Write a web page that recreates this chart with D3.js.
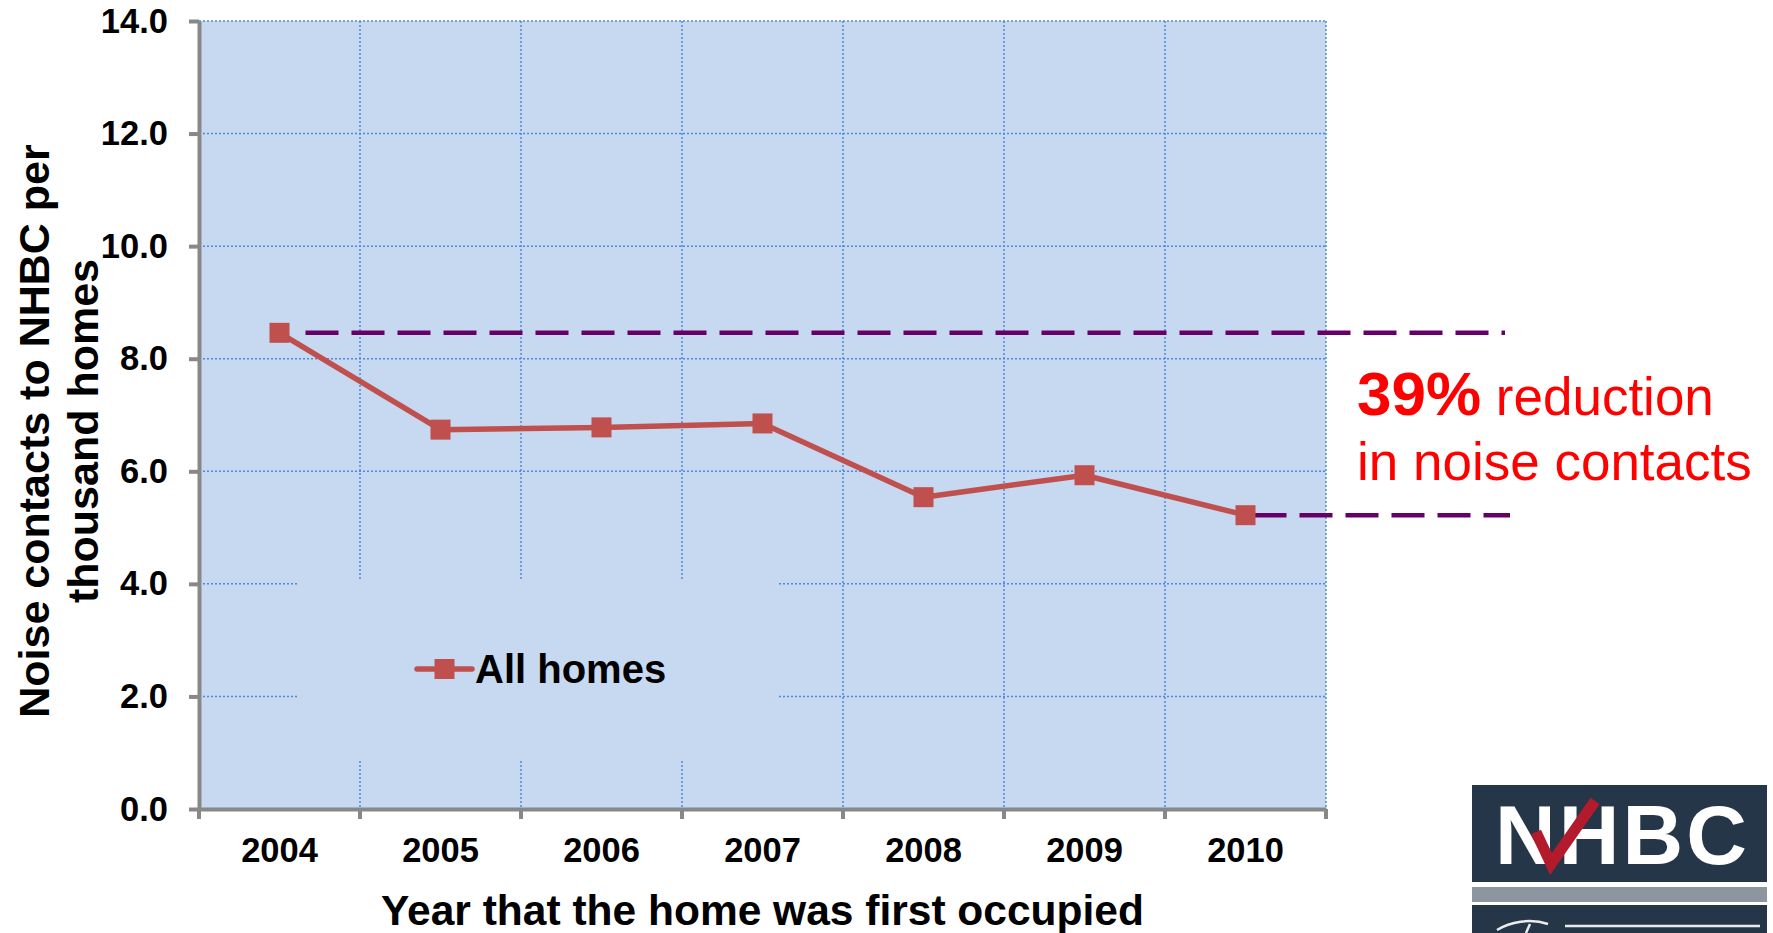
<!DOCTYPE html>
<html>
<head>
<meta charset="utf-8">
<script src="https://cdn.jsdelivr.net/npm/d3@7"></script>
<style>
  body { margin: 0; background: #fff; }
  svg { display: block; font-family: Arial, "Liberation Sans", sans-serif; }
</style>
</head>
<body>
<div id="chart-area"></div>
<script>
// data
var years = ["2004", "2005", "2006", "2007", "2008", "2009", "2010"];
var allHomes = [8.46, 6.74, 6.78, 6.85, 5.54, 5.93, 5.22];
var yTicks = [0, 2, 4, 6, 8, 10, 12, 14];
var seriesName = "All homes";
var yTitle = ["Noise contacts to NHBC per", "thousand homes"];
var xTitle = "Year that the home was first occupied";

var W = 1773, H = 933;
var margin = { left: 199, right: 447, top: 21, bottom: 124 };

var svg = d3.select("#chart-area")
    .append("svg")
        .attr("width", W)
        .attr("height", H);

var x = d3.scaleBand()
    .domain(years)
    .range([margin.left, W - margin.right]);

var y = d3.scaleLinear()
    .domain([0, 14])
    .range([H - margin.bottom, margin.top]);

var gridColor = "#4d8ad9";
var axisColor = "#888888";
var red = "#c0504d";
var bg = "#c6d9f0";

// plot background
svg.append("rect")
    .attr("x", x.range()[0])
    .attr("y", y(14))
    .attr("width", x.range()[1] - x.range()[0])
    .attr("height", y(0) - y(14))
    .attr("fill", bg);

// band edges (ticks + vertical grid)
var edges = years.map(d => x(d)).concat([x.range()[1]]);

svg.append("g")
    .selectAll("line")
    .data(yTicks.filter(d => d > 0))
    .join("line")
        .attr("x1", x.range()[0])
        .attr("x2", x.range()[1])
        .attr("y1", d => y(d))
        .attr("y2", d => y(d))
        .attr("stroke", gridColor)
        .attr("stroke-width", 1.5)
        .attr("stroke-dasharray", "2,2");

svg.append("g")
    .selectAll("line")
    .data(edges.slice(1))
    .join("line")
        .attr("x1", d => d)
        .attr("x2", d => d)
        .attr("y1", y(14))
        .attr("y2", y(0))
        .attr("stroke", gridColor)
        .attr("stroke-width", 1.5)
        .attr("stroke-dasharray", "2,2");

// legend box hides the grid behind it
var legendBox = { x: 297, y: 579, w: 482, h: 180 };
svg.append("rect")
    .attr("x", legendBox.x)
    .attr("y", legendBox.y)
    .attr("width", legendBox.w)
    .attr("height", legendBox.h)
    .attr("fill", bg);

// y axis
var yAxis = d3.axisLeft(y)
    .tickValues(yTicks)
    .tickFormat(d3.format(".1f"))
    .tickSize(10)
    .tickSizeOuter(0)
    .tickPadding(21);

var gy = svg.append("g")
    .attr("transform", "translate(" + margin.left + ",0)")
    .call(yAxis);
gy.select(".domain").attr("stroke", axisColor).attr("stroke-width", 4);
gy.selectAll(".tick line").attr("stroke", axisColor).attr("stroke-width", 4);
gy.selectAll(".tick text")
    .attr("fill", "#000")
    .style("font-size", "34.5px")
    .style("font-weight", "bold")
    .style("font-family", "Arial, 'Liberation Sans', sans-serif");

// x axis: labels centred on bands, ticks on band edges
var xAxis = d3.axisBottom(x)
    .tickSize(0)
    .tickPadding(29);

var gx = svg.append("g")
    .attr("transform", "translate(0," + y(0) + ")")
    .call(xAxis);
gx.select(".domain").attr("stroke", axisColor).attr("stroke-width", 4);
gx.selectAll(".tick text")
    .attr("fill", "#000")
    .style("font-size", "34.5px")
    .style("font-weight", "bold")
    .style("font-family", "Arial, 'Liberation Sans', sans-serif");

gx.selectAll(".edge")
    .data(edges)
    .join("line")
        .attr("class", "edge")
        .attr("x1", d => d)
        .attr("x2", d => d)
        .attr("y1", 0)
        .attr("y2", 10)
        .attr("stroke", axisColor)
        .attr("stroke-width", 4);

// dashed reference lines at first and last value
var cx = d => x(d) + x.bandwidth() / 2;
var first = allHomes[0], last = allHomes[allHomes.length - 1];

svg.append("line")
    .attr("x1", cx(years[0]) + 26)
    .attr("x2", 1505)
    .attr("y1", y(first))
    .attr("y2", y(first))
    .attr("stroke", "#660066")
    .attr("stroke-width", 4.5)
    .attr("stroke-dasharray", "33,13");

svg.append("line")
    .attr("x1", cx(years[years.length - 1]) + 8)
    .attr("x2", 1510)
    .attr("y1", y(last))
    .attr("y2", y(last))
    .attr("stroke", "#660066")
    .attr("stroke-width", 4.5)
    .attr("stroke-dasharray", "33,13");

// series line + square markers
var line = d3.line()
    .x((d, i) => cx(years[i]))
    .y(d => y(d));

svg.append("path")
    .datum(allHomes)
    .attr("d", line)
    .attr("fill", "none")
    .attr("stroke", red)
    .attr("stroke-width", 5.5)
    .attr("stroke-linejoin", "round");

var sq = 20;
svg.append("g")
    .selectAll("rect")
    .data(allHomes)
    .join("rect")
        .attr("x", (d, i) => cx(years[i]) - sq / 2)
        .attr("y", d => y(d) - sq / 2)
        .attr("width", sq)
        .attr("height", sq)
        .attr("fill", red);

// legend
var lg = svg.append("g");
lg.append("line")
    .attr("x1", 417).attr("x2", 472)
    .attr("y1", 669).attr("y2", 669)
    .attr("stroke", red)
    .attr("stroke-width", 5.5)
    .attr("stroke-linecap", "round");
lg.append("rect")
    .attr("x", 444.5 - sq / 2).attr("y", 669 - sq / 2)
    .attr("width", sq).attr("height", sq)
    .attr("fill", red);
lg.append("text")
    .attr("x", 475).attr("y", 683)
    .style("font-size", "40px")
    .style("font-weight", "bold")
    .text(seriesName);

// axis titles
var yt = svg.append("text")
    .attr("transform", "translate(49,431) rotate(-90)")
    .attr("text-anchor", "middle")
    .style("font-size", "43px")
    .style("font-weight", "bold");
yt.append("tspan").attr("x", 0).attr("y", 0).text(yTitle[0]);
yt.append("tspan").attr("x", 0).attr("y", 49).text(yTitle[1]);

svg.append("text")
    .attr("x", (x.range()[0] + x.range()[1]) / 2)
    .attr("y", 925)
    .attr("text-anchor", "middle")
    .style("font-size", "42.5px")
    .style("font-weight", "bold")
    .text(xTitle);

// annotation
var ann = svg.append("text")
    .attr("x", 1357).attr("y", 415)
    .attr("fill", "#ff0000");
ann.append("tspan")
    .style("font-size", "62px")
    .style("font-weight", "bold")
    .text("39%");
ann.append("tspan")
    .style("font-size", "53px")
    .text(" reduction");
svg.append("text")
    .attr("x", 1357).attr("y", 480)
    .attr("fill", "#ff0000")
    .style("font-size", "53px")
    .text("in noise contacts");

// logo
var logo = svg.append("g");
logo.append("rect")
    .attr("x", 1472).attr("y", 785)
    .attr("width", 295).attr("height", 97)
    .attr("fill", "#253648");
logo.append("rect")
    .attr("x", 1472).attr("y", 887)
    .attr("width", 295).attr("height", 15)
    .attr("fill", "#8d969e");
logo.append("rect")
    .attr("x", 1472).attr("y", 905)
    .attr("width", 295).attr("height", 40)
    .attr("fill", "#253648");
logo.append("text")
    .attr("x", 1495).attr("y", 864)
    .attr("fill", "#fff")
    .attr("textLength", 252)
    .attr("lengthAdjust", "spacing")
    .style("font-size", "84px")
    .style("font-weight", "bold")
    .text("NHBC");
logo.append("path")
    .attr("d", "M1536,832 L1551,864 L1595,801")
    .attr("fill", "none")
    .attr("stroke", "#b31b2d")
    .attr("stroke-width", 11);
// top of the cut-off script line in the lower logo band
logo.append("path")
    .attr("d", "M1497,930 C1510,922 1530,918 1548,924 M1530,924 L1526,933 M1565,926 L1760,926")
    .attr("fill", "none")
    .attr("stroke", "#fff")
    .attr("stroke-width", 2.5)
    .attr("stroke-dasharray", "0")
    .attr("opacity", 0.9);
</script>
</body>
</html>
